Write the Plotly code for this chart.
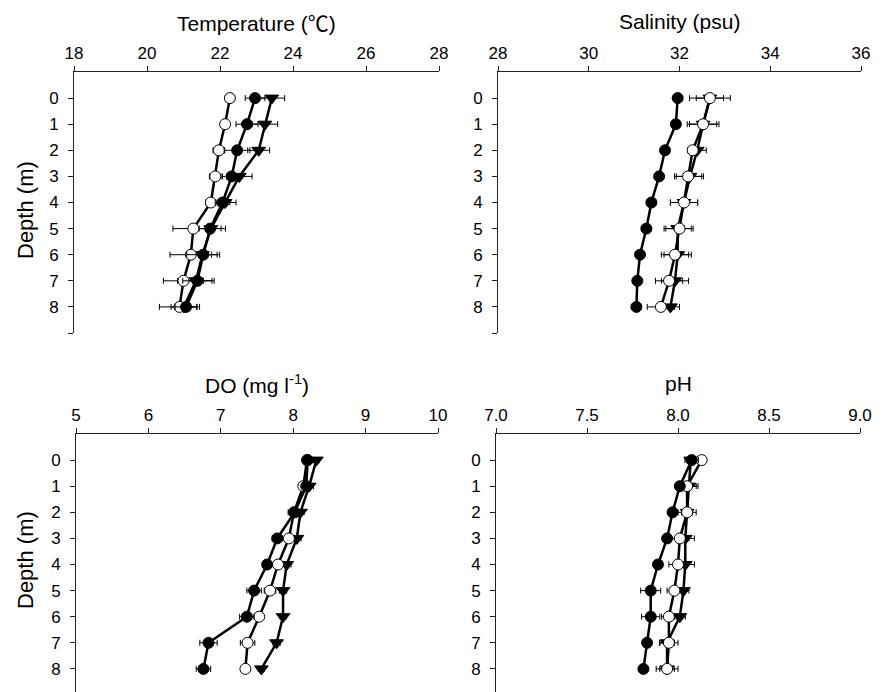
import plotly.graph_objects as go

depth = [0, 1, 2, 3, 4, 5, 6, 7, 8]

# Temperature
temp_filled = [22.96, 22.74, 22.47, 22.32, 22.07, 21.73, 21.54, 21.38, 21.07]
temp_filled_err = [0.27, 0.30, 0.35, 0.25, 0.20, 0.30, 0.45, 0.40, 0.30]
temp_open = [22.27, 22.14, 21.97, 21.87, 21.75, 21.27, 21.20, 21.00, 20.89]
temp_open_err = [0.12, 0.05, 0.16, 0.16, 0.14, 0.56, 0.57, 0.55, 0.55]
temp_tri = [23.42, 23.23, 23.06, 22.53, 22.14, 21.75, 21.52, 21.34, 21.01]
temp_tri_err = [0.35, 0.35, 0.30, 0.35, 0.30, 0.40, 0.40, 0.50, 0.35]

# Salinity
sal_filled = [31.96, 31.92, 31.68, 31.55, 31.38, 31.27, 31.13, 31.07, 31.05]
sal_filled_err = [0.03, 0.03, 0.08, 0.10, 0.10, 0.10, 0.03, 0.03, 0.10]
sal_open = [32.67, 32.52, 32.29, 32.19, 32.10, 32.00, 31.90, 31.77, 31.59]
sal_open_err = [0.45, 0.35, 0.10, 0.30, 0.30, 0.30, 0.30, 0.30, 0.30]
sal_tri = [32.67, 32.52, 32.39, 32.23, 32.10, 31.96, 31.96, 31.90, 31.80]
sal_tri_err = [0.30, 0.30, 0.20, 0.30, 0.30, 0.30, 0.30, 0.30, 0.20]

# DO
do_filled = [8.20, 8.18, 8.02, 7.78, 7.64, 7.46, 7.36, 6.83, 6.76]
do_filled_err = [0.05, 0.05, 0.06, 0.07, 0.06, 0.10, 0.10, 0.12, 0.10]
do_open = [8.19, 8.14, 8.01, 7.94, 7.79, 7.68, 7.53, 7.37, 7.34]
do_open_err = [0.04, 0.05, 0.08, 0.05, 0.05, 0.08, 0.05, 0.10, 0.04]
do_tri = [8.32, 8.22, 8.10, 8.05, 7.91, 7.86, 7.86, 7.77, 7.56]
do_tri_err = [0.04, 0.06, 0.05, 0.06, 0.06, 0.05, 0.04, 0.05, 0.04]

# pH
ph_filled = [8.075, 8.01, 7.97, 7.94, 7.89, 7.85, 7.85, 7.83, 7.81]
ph_filled_err = [0.037, 0.02, 0.02, 0.02, 0.02, 0.055, 0.05, 0.02, 0.02]
ph_open = [8.13, 8.05, 8.05, 8.01, 8.00, 7.98, 7.95, 7.95, 7.94]
ph_open_err = [0.02, 0.05, 0.03, 0.05, 0.05, 0.04, 0.04, 0.05, 0.06]
ph_tri = [8.07, 8.06, 8.05, 8.04, 8.04, 8.03, 8.01, 7.94, 7.94]
ph_tri_err = [0.02, 0.05, 0.05, 0.05, 0.05, 0.03, 0.03, 0.04, 0.04]

panel_titles = ["Temperature (<span style='font-family:Noto Sans CJK SC'>\u2103</span>)",
                "Salinity (psu)", "DO (mg l<sup>-1</sup>)", "pH"]
x_ranges = [[18, 28], [28, 36], [5, 10], [7.0, 9.0]]
x_ticks = [[18, 20, 22, 24, 26, 28], [28, 30, 32, 34, 36], [5, 6, 7, 8, 9, 10],
           [7.0, 7.5, 8.0, 8.5, 9.0]]
x_ticktext = [["18", "20", "22", "24", "26", "28"], ["28", "30", "32", "34", "36"],
              ["5", "6", "7", "8", "9", "10"], ["7.0", "7.5", "8.0", "8.5", "9.0"]]
y_tickvals = [0, 1, 2, 3, 4, 5, 6, 7, 8, 9]
y_ticktext = ["0", "1", "2", "3", "4", "5", "6", "7", "8", ""]

panels = [
    (temp_filled, temp_filled_err, temp_open, temp_open_err, temp_tri, temp_tri_err),
    (sal_filled, sal_filled_err, sal_open, sal_open_err, sal_tri, sal_tri_err),
    (do_filled, do_filled_err, do_open, do_open_err, do_tri, do_tri_err),
    (ph_filled, ph_filled_err, ph_open, ph_open_err, ph_tri, ph_tri_err),
]

W, H = 887, 692
# pixel geometry of plot areas: (left, right, top, bottom)
geom = [(74, 439, 72, 333), (498, 861, 72, 333), (76, 438, 434, 692), (496, 860, 434, 692)]
y_ranges = [[9, -1], [9, -1], [8.885, -1], [8.885, -1]]

FONT = "Liberation Sans, Arial, sans-serif"
fig = go.Figure()

for i, (f, fe, o, oe, t, te) in enumerate(panels):
    xa = "x" if i == 0 else f"x{i+1}"
    ya = "y" if i == 0 else f"y{i+1}"
    common = dict(xaxis=xa, yaxis=ya, mode="lines+markers", showlegend=False,
                  line=dict(color="black", width=2.5), cliponaxis=False)
    fig.add_trace(go.Scatter(x=t, y=depth,
                             error_x=dict(type="data", array=te, color="black", thickness=1, width=3),
                             marker=dict(symbol="triangle-down", size=12, color="black",
                                         line=dict(color="black", width=1)), **common))
    fig.add_trace(go.Scatter(x=o, y=depth,
                             error_x=dict(type="data", array=oe, color="black", thickness=1, width=3),
                             marker=dict(symbol="circle", size=11, color="white",
                                         line=dict(color="black", width=1)), **common))
    fig.add_trace(go.Scatter(x=f, y=depth,
                             error_x=dict(type="data", array=fe, color="black", thickness=1, width=3),
                             marker=dict(symbol="circle", size=11, color="black",
                                         line=dict(color="black", width=1)), **common))

    l, r, tp, bt = geom[i]
    xkey = "xaxis" if i == 0 else f"xaxis{i+1}"
    ykey = "yaxis" if i == 0 else f"yaxis{i+1}"
    fig.update_layout(**{
        xkey: dict(domain=[l / W, r / W], range=x_ranges[i], side="top", anchor=ya,
                   tickvals=x_ticks[i], ticktext=x_ticktext[i], ticks="outside", ticklen=5,
                   tickcolor="#222", showline=True, linecolor="#222", linewidth=1,
                   showgrid=False, zeroline=False, automargin=False,
                   tickfont=dict(size=17, color="black", family=FONT), fixedrange=True),
        ykey: dict(domain=[(H - bt) / H, (H - tp) / H], range=y_ranges[i], anchor=xa,
                   tickvals=y_tickvals, ticktext=y_ticktext, ticks="outside", ticklen=5,
                   tickcolor="#222", showline=True, linecolor="#222", linewidth=1,
                   showgrid=False, zeroline=False, ticklabelstandoff=6, automargin=False,
                   tickfont=dict(size=17, color="black", family=FONT), fixedrange=True),
    })
    # panel title
    fig.add_annotation(text=panel_titles[i], x=(l + r) / 2 / W, y=(H - (tp - 50)) / H,
                       xref="paper", yref="paper", showarrow=False, xanchor="center",
                       yanchor="middle", font=dict(size=21, color="black", family=FONT))

# Depth labels
for yc in [210, 560]:
    fig.add_annotation(text="Depth (m)", x=25 / W, y=(H - yc) / H, xref="paper", yref="paper",
                       showarrow=False, textangle=-90, xanchor="center", yanchor="middle",
                       font=dict(size=22, color="black", family=FONT))

fig.update_layout(width=W, height=H, margin=dict(l=0, r=0, t=0, b=0),
                  paper_bgcolor="white", plot_bgcolor="white")

fig.write_html("out.html", config={"displayModeBar": False},
               post_script="document.body.style.margin='0';document.body.style.overflow='hidden';")
